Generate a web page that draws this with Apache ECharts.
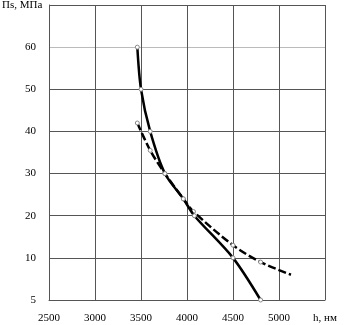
<!DOCTYPE html>
<html>
<head>
<meta charset="utf-8">
<script src="https://cdn.jsdelivr.net/npm/echarts@6/dist/echarts.min.js"></script>
<style>
  html, body { margin: 0; padding: 0; background: #fff; }
  #chart { width: 345px; height: 325px; }
</style>
</head>
<body>
<div id="chart"></div>
<script>
// h, нм
const solidH = [3460, 3500, 3600, 3760, 3960, 4080, 4500, 4800]
const solidP = [60, 50, 40, 30, 24, 20, 10, 5]
const dashH = [3460, 3600, 3760, 3960, 4070, 4500, 4800, 5130]
const dashP = [42, 35.5, 30, 24, 21, 13, 9.5, 8]
const yTicks = ['5', '10', '20', '30', '40', '50', '60', '']

// ось Пs неравномерная: участок 5..10 растянут как 10 единиц
function toAxis(v) {
  return v >= 10 ? v : 10 - (10 - v) * 2
}
function pairs(xs, ys, noLastMark) {
  return xs.map((x, i) => {
    const item = { value: [x, toAxis(ys[i])] }
    if (noLastMark && i === xs.length - 1) item.symbol = 'none'
    return item
  })
}

const font = 'Liberation Serif'
const gridColor = '#555'

const option = {
  animation: false,
  grid: { left: 49, right: 20, top: 5, bottom: 25 },
  xAxis: {
    type: 'value',
    min: 2500,
    max: 5500,
    interval: 500,
    axisLine: { show: true, lineStyle: { color: gridColor, width: 1 } },
    axisTick: { show: false },
    splitLine: { show: true, lineStyle: { color: gridColor, width: 1 } },
    axisLabel: {
      color: '#000',
      fontFamily: font,
      fontSize: 11,
      margin: 13,
      formatter: v => v === 5500 ? 'h, нм' : String(v)
    }
  },
  yAxis: {
    type: 'value',
    min: 0,
    max: 70,
    interval: 10,
    axisLine: { show: true, lineStyle: { color: gridColor, width: 1 } },
    axisTick: { show: false },
    splitLine: {
      show: true,
      lineStyle: {
        width: 1,
        color: [gridColor, gridColor, gridColor, gridColor, gridColor, gridColor, '#bbb', gridColor]
      }
    },
    axisLabel: {
      color: '#000',
      fontFamily: font,
      fontSize: 11,
      margin: 13,
      formatter: (v) => yTicks[Math.round(v / 10)]
    }
  },
  graphic: [{
    type: 'text',
    left: 2,
    top: 0,
    style: { text: 'Пs, МПа', fill: '#000', font: '11px "Liberation Serif"' }
  }],
  series: [
    {
      type: 'line',
      data: pairs(solidH, solidP, false),
      smooth: 0.3,
      symbol: 'circle',
      symbolSize: 4,
      itemStyle: { color: '#fff', borderColor: '#888', borderWidth: 1 },
      lineStyle: { color: '#000', width: 2.5 },
      z: 3
    },
    {
      type: 'line',
      data: pairs(dashH, dashP, true),
      smooth: 0.3,
      symbol: 'circle',
      symbolSize: 4,
      itemStyle: { color: '#fff', borderColor: '#888', borderWidth: 1 },
      lineStyle: { color: '#000', width: 2.5, type: [8, 3] },
      z: 2
    }
  ]
}

const myChart = echarts.init(document.getElementById('chart'))
myChart.setOption(option)
</script>
</body>
</html>
